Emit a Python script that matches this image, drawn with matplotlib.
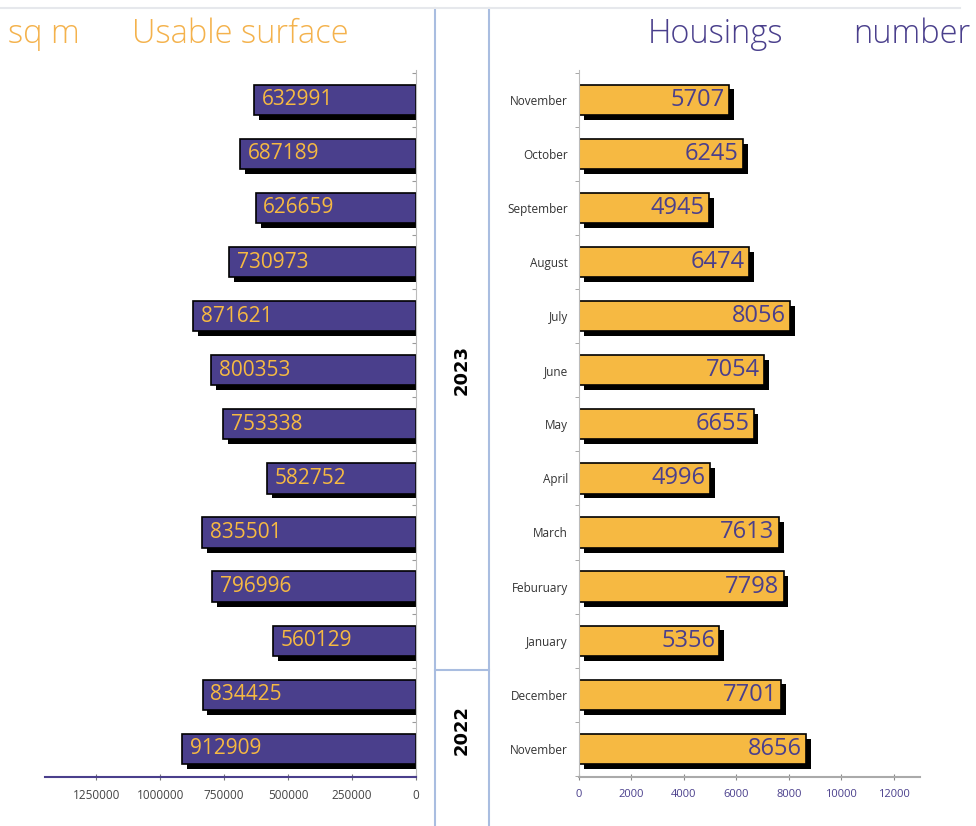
import matplotlib
matplotlib.use("Agg")
import matplotlib.pyplot as plt
import matplotlib.patheffects as pe
from matplotlib.lines import Line2D

months = ["November", "October", "September", "August", "July", "June", "May",
          "April", "March", "Feburuary", "January", "December", "November"]
surface = [632991, 687189, 626659, 730973, 871621, 800353, 753338,
           582752, 835501, 796996, 560129, 834425, 912909]
housings = [5707, 6245, 4945, 6474, 8056, 7054, 6655,
            4996, 7613, 7798, 5356, 7701, 8656]
left_ticks = [0, 250000, 500000, 750000, 1000000, 1250000]
right_ticks = [0, 2000, 4000, 6000, 8000, 10000, 12000]

PURPLE = "#4a3f8c"
ORANGE = "#f6b942"
TITLE_ORANGE = "#f4b24c"
FONT = ["Open Sans", "DejaVu Sans"]
plt.rcParams["font.family"] = FONT

W, H = 976, 826
fig = plt.figure(figsize=(W / 100, H / 100), dpi=100)

def fx(px):
    return px / W

def fy(py):
    return 1 - py / H

n = len(months)
ypos = list(range(n - 1, -1, -1))
ylim = (-0.52, n - 1 + 0.55)
ax_bottom = fy(777)
ax_top = fy(70)

shadow = [pe.SimplePatchShadow(offset=(3.5, -3.5), shadow_rgbFace="black", alpha=1.0), pe.Normal()]

# Left axes
axL = fig.add_axes([fx(45), ax_bottom, fx(416) - fx(45), ax_top - ax_bottom])
barsL = axL.barh(ypos, surface, height=0.56, color=PURPLE, edgecolor="black", linewidth=1.2)
for b in barsL:
    b.set_path_effects(shadow)
axL.set_xlim(1450000, 0)
axL.set_ylim(*ylim)
for y, v in zip(ypos, surface):
    axL.text(v - 30000, y, f"{v}", ha="left", va="center", color=ORANGE, fontsize=15)
axL.set_xticks(left_ticks)
axL.set_xticklabels([str(t) for t in left_ticks], fontsize=8.5, color="#444444")
axL.set_yticks([y + 0.5 for y in range(-1, n)])
axL.set_yticklabels([])
axL.yaxis.tick_right()
for s in ["left", "top"]:
    axL.spines[s].set_visible(False)
axL.spines["right"].set_color("#bbbbbb")
axL.spines["bottom"].set_color(PURPLE)
axL.spines["bottom"].set_linewidth(1.5)
axL.tick_params(axis="y", direction="in", length=3, color="#999999")
axL.tick_params(axis="x", direction="inout", length=5, color="#777777", pad=6)

# Right axes
axR = fig.add_axes([fx(579), ax_bottom, fx(920) - fx(579), ax_top - ax_bottom])
barsR = axR.barh(ypos, housings, height=0.56, color=ORANGE, edgecolor="black", linewidth=1.2)
for b in barsR:
    b.set_path_effects(shadow)
axR.set_xlim(0, 13000)
axR.set_ylim(*ylim)
for y, v in zip(ypos, housings):
    axR.text(v - 160, y, f"{v}", ha="right", va="center", color=PURPLE, fontsize=17)
axR.set_xticks(right_ticks)
axR.set_xticklabels([str(t) for t in right_ticks], fontsize=8, color=PURPLE)
axR.set_yticks(ypos)
axR.set_yticklabels(months, fontsize=8.5, color="#333333")
axR.set_yticks([y + 0.5 for y in range(-1, n)], minor=True)
axR.tick_params(axis="y", which="major", length=0, pad=8)
axR.tick_params(axis="y", which="minor", length=3, color="#999999")
for s in ["right", "top"]:
    axR.spines[s].set_visible(False)
axR.spines["left"].set_color("#bbbbbb")
axR.spines["bottom"].set_color("#aaaaaa")
axR.spines["bottom"].set_linewidth(1.5)
axR.tick_params(axis="x", direction="inout", length=5, color="#888888", pad=6)

# Dividers
line_c = "#a9bde0"
fig.add_artist(Line2D([fx(435), fx(435)], [fy(8), 0], color=line_c, lw=1.5))
fig.add_artist(Line2D([fx(489), fx(489)], [fy(8), 0], color=line_c, lw=1.5))
fig.add_artist(Line2D([fx(435), fx(489)], [fy(670), fy(670)], color=line_c, lw=1.5))
fig.add_artist(Line2D([0, fx(960)], [fy(8), fy(8)], color="#e6e8ec", lw=1.5))

fig.text(fx(462), fy(370), "2023", rotation=90, ha="center", va="center",
         fontsize=13, fontweight="bold", color="black", family=["DejaVu Sans"])
fig.text(fx(462), fy(730), "2022", rotation=90, ha="center", va="center",
         fontsize=13, fontweight="bold", color="black", family=["DejaVu Sans"])

# Titles
tkw = dict(va="center", fontsize=23.5, fontweight="light")
fig.text(fx(8), fy(34), "sq m", ha="left", color=TITLE_ORANGE, **tkw)
fig.text(fx(132), fy(34), "Usable surface", ha="left", color=TITLE_ORANGE, **tkw)
fig.text(fx(648), fy(34), "Housings", ha="left", color=PURPLE, **tkw)
fig.text(fx(970), fy(34), "number", ha="right", color=PURPLE, **tkw)

fig.savefig("out.png", dpi=100)
